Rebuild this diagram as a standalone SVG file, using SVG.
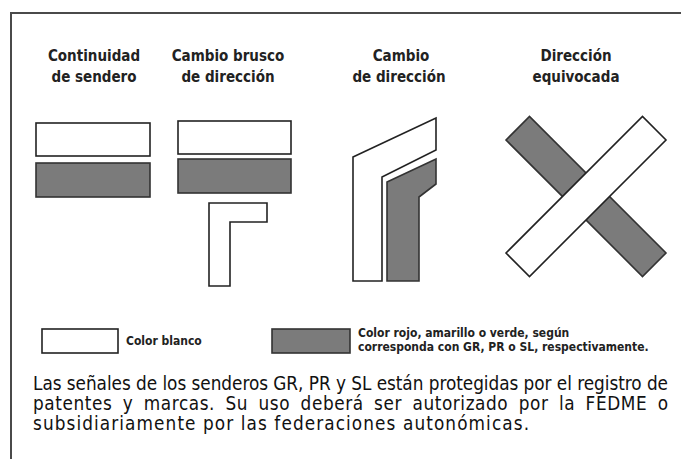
<svg xmlns="http://www.w3.org/2000/svg" width="681" height="459" viewBox="0 0 681 459">
<style>
.frame{fill:none;stroke:#4a4a4a;stroke-width:2}
.w{fill:#fff;stroke:#222;stroke-width:1.6;stroke-linejoin:miter}
.g{fill:#7b7b7b;stroke:#333;stroke-width:1.6}
.t{font-family:'DejaVu Sans Condensed','DejaVu Sans',sans-serif;font-stretch:condensed;font-weight:bold;font-size:15px;fill:#222;text-anchor:middle}
.lg{font-family:'DejaVu Sans Condensed','DejaVu Sans',sans-serif;font-stretch:condensed;font-weight:bold;font-size:12px;fill:#222}
.p{font-family:'DejaVu Sans Condensed','DejaVu Sans',sans-serif;font-stretch:condensed;font-size:18.8px;fill:#111}
</style>
<rect width="681" height="459" fill="#fff"/>
<path class="frame" d="M11 459V13H681"/>
<g id="continuidad">
<text class="t" x="94" y="61">Continuidad</text>
<text class="t" x="94" y="82">de sendero</text>
<rect class="w" x="36" y="123" width="114" height="33"/>
<rect class="g" x="36" y="163" width="114" height="34"/>
</g>
<g id="cambio-brusco">
<text class="t" x="228" y="61">Cambio brusco</text>
<text class="t" x="228" y="82">de dirección</text>
<rect class="w" x="178" y="121" width="113" height="33"/>
<rect class="g" x="178" y="159" width="113" height="34"/>
<polygon class="w" points="209,203 267,203 267,222 230,222 230,286 209,286"/>
</g>
<g id="cambio-direccion">
<text class="t" x="401" y="61">Cambio</text>
<text class="t" x="399" y="82">de dirección</text>
<polygon class="w" points="353,157 436,118 436,150 382,177 382,281 353,281"/>
<polygon class="g" points="387,182 436,159 436,184 419,197 419,281 387,281"/>
</g>
<g id="direccion-equivocada">
<text class="t" x="576" y="61">Dirección</text>
<text class="t" x="576" y="82">equivocada</text>
<polygon class="g" points="506,140 529.5,116.5 666,253 642.5,276.5"/>
<polygon class="w" points="506,253 642.5,116.5 666,140 529.5,276.5"/>
</g>
<g id="leyenda">
<rect class="w" x="42" y="329" width="76" height="24"/>
<text class="lg" x="126" y="345">Color blanco</text>
<rect class="g" x="272" y="329" width="78" height="24"/>
<text class="lg" x="358" y="337">Color rojo, amarillo o verde, según</text>
<text class="lg" x="358" y="351">corresponda con GR, PR o SL, respectivamente.</text>
</g>
<g id="texto">
<text class="p" x="33" y="390" textLength="635" lengthAdjust="spacing">Las señales de los senderos GR, PR y SL están protegidas por el registro de</text>
<text class="p" x="33" y="410" word-spacing="4.5" textLength="635" lengthAdjust="spacing">patentes y marcas. Su uso deberá ser autorizado por la FEDME o</text>
<text class="p" x="33" y="430" textLength="496" lengthAdjust="spacing">subsidiariamente por las federaciones autonómicas.</text>
</g>
<g id="conectores"/>
</svg>
